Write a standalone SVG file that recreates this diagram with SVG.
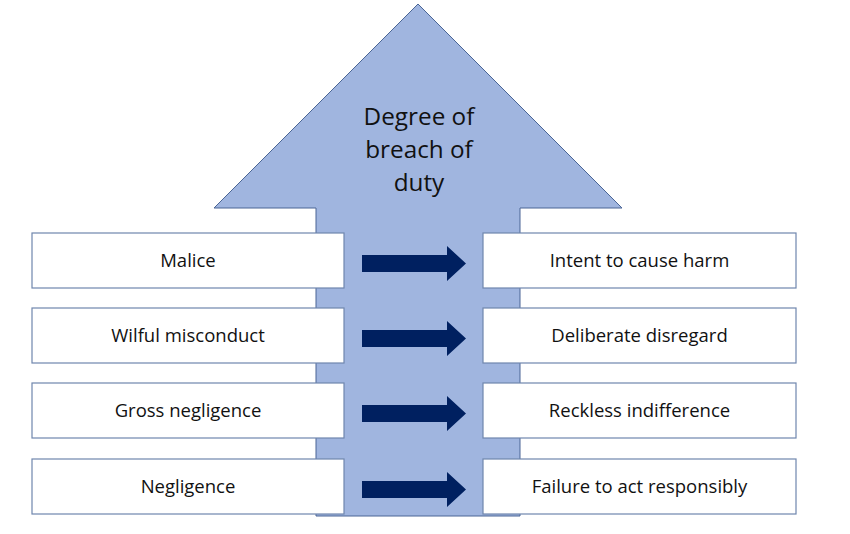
<svg xmlns="http://www.w3.org/2000/svg" width="850" height="534" viewBox="0 0 850 534">
<style>
.box{fill:#fff;stroke:#6f86ad;stroke-width:1.2}
.t{font-family:"Open Sans","Liberation Sans",sans-serif;font-size:18.5px;fill:#111;text-anchor:middle}
.title{font-family:"Open Sans","Liberation Sans",sans-serif;font-size:24.3px;fill:#111;text-anchor:middle}
.arr{fill:#002060}
</style>
<rect width="850" height="534" fill="#fff"/>
<g id="big-arrow">
<polygon points="418,4 622,208 520,208 520,516 316,516 316,208 214,208" fill="#a0b5df" stroke="#4a6595" stroke-width="1"/>
<text class="title" x="419" y="125">Degree of</text>
<text class="title" x="419" y="158">breach of</text>
<text class="title" x="419" y="191">duty</text>
</g>
<g id="left-1"><rect class="box" x="32" y="233" width="312" height="55"/><text class="t" x="188" y="267">Malice</text></g>
<g id="left-2"><rect class="box" x="32" y="308" width="312" height="55"/><text class="t" x="188" y="342">Wilful misconduct</text></g>
<g id="left-3"><rect class="box" x="32" y="383" width="312" height="55"/><text class="t" x="188" y="417">Gross negligence</text></g>
<g id="left-4"><rect class="box" x="32" y="459" width="312" height="55"/><text class="t" x="188" y="493">Negligence</text></g>
<g id="right-1"><rect class="box" x="483" y="233" width="313" height="55"/><text class="t" x="639.5" y="267">Intent to cause harm</text></g>
<g id="right-2"><rect class="box" x="483" y="308" width="313" height="55"/><text class="t" x="639.5" y="342">Deliberate disregard</text></g>
<g id="right-3"><rect class="box" x="483" y="383" width="313" height="55"/><text class="t" x="639.5" y="417">Reckless indifference</text></g>
<g id="right-4"><rect class="box" x="483" y="459" width="313" height="55"/><text class="t" x="639.5" y="493">Failure to act responsibly</text></g>
<g id="connectors">
<polygon class="arr" points="362,255 447,255 447,246 466,263.5 447,281 447,272 362,272"/>
<polygon class="arr" points="362,330 447,330 447,321 466,338.5 447,356 447,347 362,347"/>
<polygon class="arr" points="362,405 447,405 447,396 466,413.5 447,431 447,422 362,422"/>
<polygon class="arr" points="362,481 447,481 447,472 466,489.5 447,507 447,498 362,498"/>
</g>
</svg>
